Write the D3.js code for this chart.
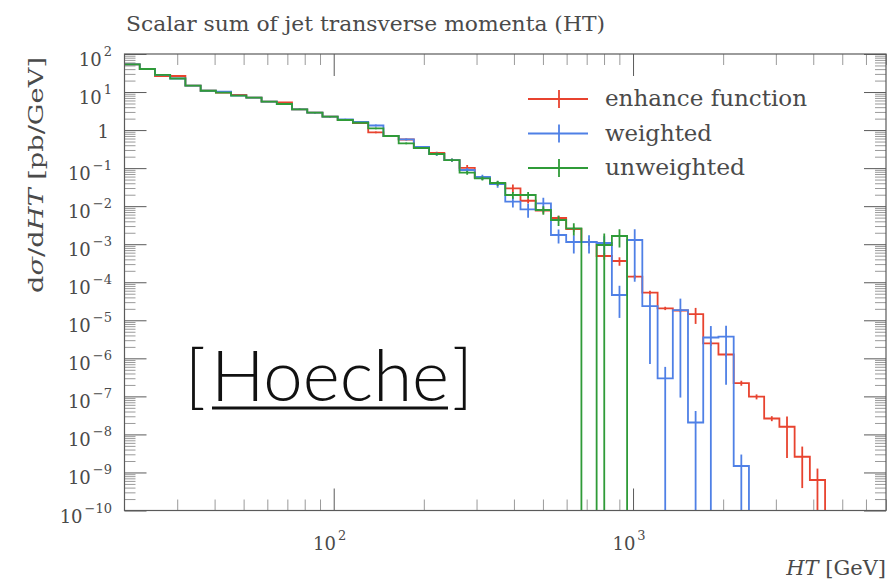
<!DOCTYPE html>
<html><head><meta charset="utf-8">
<script src="https://cdn.jsdelivr.net/npm/d3@7"></script>
<style>body{margin:0;background:#fff}svg{display:block}</style>
</head><body>
<svg id="c" width="889" height="581"></svg>
<script>
// ---- data ----
const binEdges = [20.00, 22.49, 25.28, 28.42, 31.95, 35.93, 40.39, 45.41, 51.06, 57.40,
  64.54, 72.56, 81.58, 91.72, 103.1, 115.9, 130.4, 146.6, 164.8, 185.2,
  208.3, 234.2, 263.3, 296.0, 332.8, 374.2, 420.7, 473.0, 531.8, 597.9,
  672.2, 755.7, 849.7, 955.3, 1074, 1208, 1358, 1526, 1716, 1929,
  2169, 2439, 2742, 3083, 3466, 3897, 4381, 4926, 5538, 6227, 7000];

const enhanceValues = [53.6, 40.3, 26.4, 26.4, 14.7, 10.8, 9.6, 8.36, 7.10, 5.57,
  5.37, 3.52, 2.86, 2.25, 1.84, 1.53, 0.874, 0.699, 0.565, 0.338,
  0.250, 0.163, 0.101, 0.0551, 0.0399, 0.0295, 0.0139, 0.0076, 0.00488, 0.00251,
  0.00114, 0.00049, 0.000362, 1.40e-4, 5.31e-5, 2.06e-5, 1.81e-5, 1.46e-5, 2.48e-6, 1.26e-6,
  2.24e-7, 9.80e-8, 2.62e-8, 1.59e-8, 2.59e-9, 6.33e-10, null, null, null, null];
const enhanceRelErr = [0.02, 0.02, 0.02, 0.02, 0.02, 0.02, 0.02, 0.02, 0.02, 0.02,
  0.02, 0.03, 0.03, 0.03, 0.03, 0.03, 0.05, 0.05, 0.05, 0.05,
  0.08, 0.08, 0.2, 0.12, 0.12, 0.25, 0.15, 0.15, 0.15, 0.15,
  0.2, 0.2, 0.25, 0.12, 0.12, 0.1, 0.1, 0.45, 0.15, 0.12,
  0.15, 0.15, 0.15, 0.85, 0.85, 1.0, null, null, null, null];

const weightedValues = [53.6, 40.3, 28.1, 22.7, 14.7, 10.8, 10.2, 8.01, 7.10, 5.57,
  4.85, 3.52, 2.86, 2.25, 1.90, 1.63, 1.32, 0.699, 0.568, 0.359,
  0.235, 0.163, 0.0893, 0.0584, 0.0382, 0.0131, 0.00827, 0.0119, 0.001745, 0.001143,
  0.001143, 0.001075, 4.62e-5, 1.29e-3, 2.37e-5, 2.98e-7, 1.86e-5, 2.06e-8, 3.53e-6, 3.70e-6,
  1.48e-9, null, null, null, null, null, null, null, null, null];
const weightedRelErr = [0.02, 0.02, 0.02, 0.02, 0.02, 0.02, 0.02, 0.02, 0.02, 0.02,
  0.02, 0.04, 0.04, 0.04, 0.04, 0.04, 0.06, 0.06, 0.06, 0.06,
  0.1, 0.1, 0.12, 0.15, 0.2, 0.3, 0.4, 0.4, 0.4, 0.5,
  0.5, 0.5, 0.75, 0.92, 0.97, 1.0, 0.995, 1.0, 1.0, 0.945,
  1.0, null, null, null, null, null, null, null, null, null];

const unweightedValues = [53.6, 40.3, 28.1, 22.7, 14.7, 10.8, 9.6, 8.01, 7.10, 5.57,
  4.85, 3.52, 2.86, 2.25, 1.84, 1.56, 1.11, 0.699, 0.449, 0.338,
  0.235, 0.163, 0.0758, 0.054, 0.0406, 0.01965, 0.01965, 0.00792, 0.00433, 0.00262,
  null, 0.000953, 0.001643, null, null, null, null, null, null, null,
  null, null, null, null, null, null, null, null, null, null];
const unweightedRelErr = [0.02, 0.02, 0.02, 0.02, 0.02, 0.02, 0.02, 0.02, 0.02, 0.02,
  0.02, 0.03, 0.03, 0.03, 0.03, 0.03, 0.05, 0.05, 0.05, 0.05,
  0.08, 0.08, 0.12, 0.12, 0.15, 0.2, 0.2, 0.25, 0.3, 0.35,
  null, 1.0, 0.5, null, null, null, null, null, null, null,
  null, null, null, null, null, null, null, null, null, null];

const seriesNames = ["enhance function", "weighted", "unweighted"];
const xMajorTicks = [100, 1000];
const xMinorTicks = [30, 40, 50, 60, 70, 80, 90, 200, 300, 400, 500, 600, 700, 800, 900, 2000, 3000, 4000, 5000, 6000, 7000];
const yExponents = [2, 1, 0, -1, -2, -3, -4, -5, -6, -7, -8, -9, -10];
const titleText = "Scalar sum of jet transverse momenta (HT)";

// ---- drawing ----
const svg = d3.select('#c');
const L = 124.5, R = 886, T = 54, B = 510.5;
const x = d3.scaleLog().domain([20, 7000]).range([L, R]);
const y = d3.scaleLog().domain([1e-10, 1e2]).range([B, T]);
const serif = '"DejaVu Serif", serif';
const textCol = '#4a4a4a';

svg.append('defs').append('clipPath').attr('id', 'clip')
  .append('rect').attr('x', L).attr('y', T).attr('width', R - L).attr('height', B - T);

const yMinor = [];
for (let e = -10; e < 2; e++) for (let m = 2; m <= 9; m++) yMinor.push(m * Math.pow(10, e));
const yMajor = yExponents.map(e => Math.pow(10, e));

function tickGroup(axisFn, scale, vals, size, col, tr) {
  const g = svg.append('g').attr('transform', tr)
    .call(axisFn(scale).tickValues(vals).tickSize(size).tickFormat(''));
  g.select('.domain').remove();
  g.selectAll('line').attr('stroke', col).attr('stroke-width', 1);
  return g;
}
const minorCol = '#9a9a9a', majorCol = '#5a5a5a';
tickGroup(d3.axisBottom, x, xMinorTicks, -11, minorCol, `translate(0,${B})`);
tickGroup(d3.axisTop, x, xMinorTicks, -11, minorCol, `translate(0,${T})`);
tickGroup(d3.axisBottom, x, xMajorTicks, -22, majorCol, `translate(0,${B})`);
tickGroup(d3.axisTop, x, xMajorTicks, -22, majorCol, `translate(0,${T})`);
tickGroup(d3.axisLeft, y, yMinor, -11, minorCol, `translate(${L},0)`);
tickGroup(d3.axisRight, y, yMinor, -11, minorCol, `translate(${R},0)`);
tickGroup(d3.axisLeft, y, yMajor, -22, majorCol, `translate(${L},0)`);
tickGroup(d3.axisRight, y, yMajor, -22, majorCol, `translate(${R},0)`);

const colors = ['#e8432f', '#4f80e6', '#2f9b38'];
const allVals = [enhanceValues, weightedValues, unweightedValues];
const allErr = [enhanceRelErr, weightedRelErr, unweightedRelErr];
const low = B + 30;
const plot = svg.append('g').attr('clip-path', 'url(#clip)');

function histPath(vals) {
  let last = vals.length - 1;
  while (vals[last] == null) last--;
  let d = '';
  for (let k = 0; k <= last; k++) {
    const yy = vals[k] == null ? low : y(vals[k]);
    d += (k === 0 ? `M${x(binEdges[0])},${yy}` : `V${yy}`) + `H${x(binEdges[k + 1])}`;
  }
  return d + `V${low}`;
}

allVals.forEach((vals, i) => {
  const g = plot.append('g');
  const idx = vals.map((v, k) => k).filter(k => vals[k] != null);
  g.selectAll('line').data(idx).join('line')
    .attr('x1', k => x(Math.sqrt(binEdges[k] * binEdges[k + 1])))
    .attr('x2', k => x(Math.sqrt(binEdges[k] * binEdges[k + 1])))
    .attr('y1', k => y(vals[k] * (1 + allErr[i][k])))
    .attr('y2', k => allErr[i][k] >= 1 ? low : y(vals[k] * (1 - allErr[i][k])))
    .attr('stroke', colors[i]).attr('stroke-width', 1.8);
  g.append('path').attr('d', histPath(vals)).attr('fill', 'none')
    .attr('stroke', colors[i]).attr('stroke-width', 1.8);
});

svg.append('rect').attr('x', L).attr('y', T).attr('width', R - L).attr('height', B - T)
  .attr('fill', 'none').attr('stroke', '#5a5a5a').attr('stroke-width', 1.2);

yExponents.forEach(e => {
  const yy = y(Math.pow(10, e));
  const t = svg.append('text').attr('x', 112).attr('text-anchor', 'end')
    .attr('font-family', serif).attr('fill', textCol);
  if (e === 0) {
    t.attr('x', 109).attr('y', yy + 8).attr('font-size', 18).text('1');
  } else {
    t.attr('y', yy + 12);
    t.append('tspan').attr('font-size', 18).text('10');
    t.append('tspan').attr('font-size', 13).attr('dx', 2).attr('dy', -10)
      .text(e < 0 ? '\u2212' + (-e) : String(e));
  }
});

xMajorTicks.forEach(v => {
  const t = svg.append('text').attr('x', x(v) - 4).attr('y', 550).attr('text-anchor', 'middle')
    .attr('font-family', serif).attr('fill', textCol);
  t.append('tspan').attr('font-size', 18).text('10');
  t.append('tspan').attr('font-size', 13).attr('dx', 2).attr('dy', -10).text(String(Math.round(Math.log10(v))));
});

svg.append('text').attr('x', 126).attr('y', 31).attr('font-family', serif).attr('font-size', 21)
  .attr('fill', textCol).attr('textLength', 479).attr('lengthAdjust', 'spacingAndGlyphs').text(titleText);

const xt = svg.append('text').attr('x', 886).attr('y', 575).attr('text-anchor', 'end')
  .attr('font-family', serif).attr('font-size', 21).attr('fill', textCol);
xt.append('tspan').attr('font-style', 'italic').text('HT');
xt.append('tspan').text(' [GeV]');

const yt = svg.append('text').attr('transform', 'translate(43,57) rotate(-90)').attr('text-anchor', 'end')
  .attr('font-family', serif).attr('font-size', 21).attr('fill', textCol)
  .attr('textLength', 236).attr('lengthAdjust', 'spacingAndGlyphs');
yt.append('tspan').text('d');
yt.append('tspan').attr('font-style', 'italic').text('σ');
yt.append('tspan').text('/d');
yt.append('tspan').attr('font-style', 'italic').text('HT');
yt.append('tspan').text(' [pb/GeV]');

const legW = [202, 107, 140];
seriesNames.forEach((name, i) => {
  const yy = 99 + 34.5 * i;
  const g = svg.append('g');
  g.append('line').attr('x1', 528).attr('x2', 588).attr('y1', yy).attr('y2', yy)
    .attr('stroke', colors[i]).attr('stroke-width', 1.8);
  g.append('line').attr('x1', 559).attr('x2', 559).attr('y1', yy - 9).attr('y2', yy + 9)
    .attr('stroke', colors[i]).attr('stroke-width', 1.8);
  g.append('text').attr('x', 605).attr('y', yy + 7).attr('font-family', serif).attr('font-size', 22)
    .attr('fill', textCol).attr('textLength', legW[i]).attr('lengthAdjust', 'spacingAndGlyphs').text(name);
});

const ann = svg.append('g').attr('font-family', 'Lato, "Liberation Sans", sans-serif').attr('font-weight', 300)
  .attr('font-size', 70).attr('fill', '#111');
ann.append('text').attr('x', 185).attr('y', 401).text('[');
ann.append('text').attr('x', 211).attr('y', 401).attr('textLength', 238).attr('lengthAdjust', 'spacingAndGlyphs').text('Hoeche');
ann.append('text').attr('x', 452).attr('y', 401).text(']');
ann.append('line').attr('x1', 212).attr('x2', 448).attr('y1', 408).attr('y2', 408)
  .attr('stroke', '#111').attr('stroke-width', 3);
</script>
</body></html>
